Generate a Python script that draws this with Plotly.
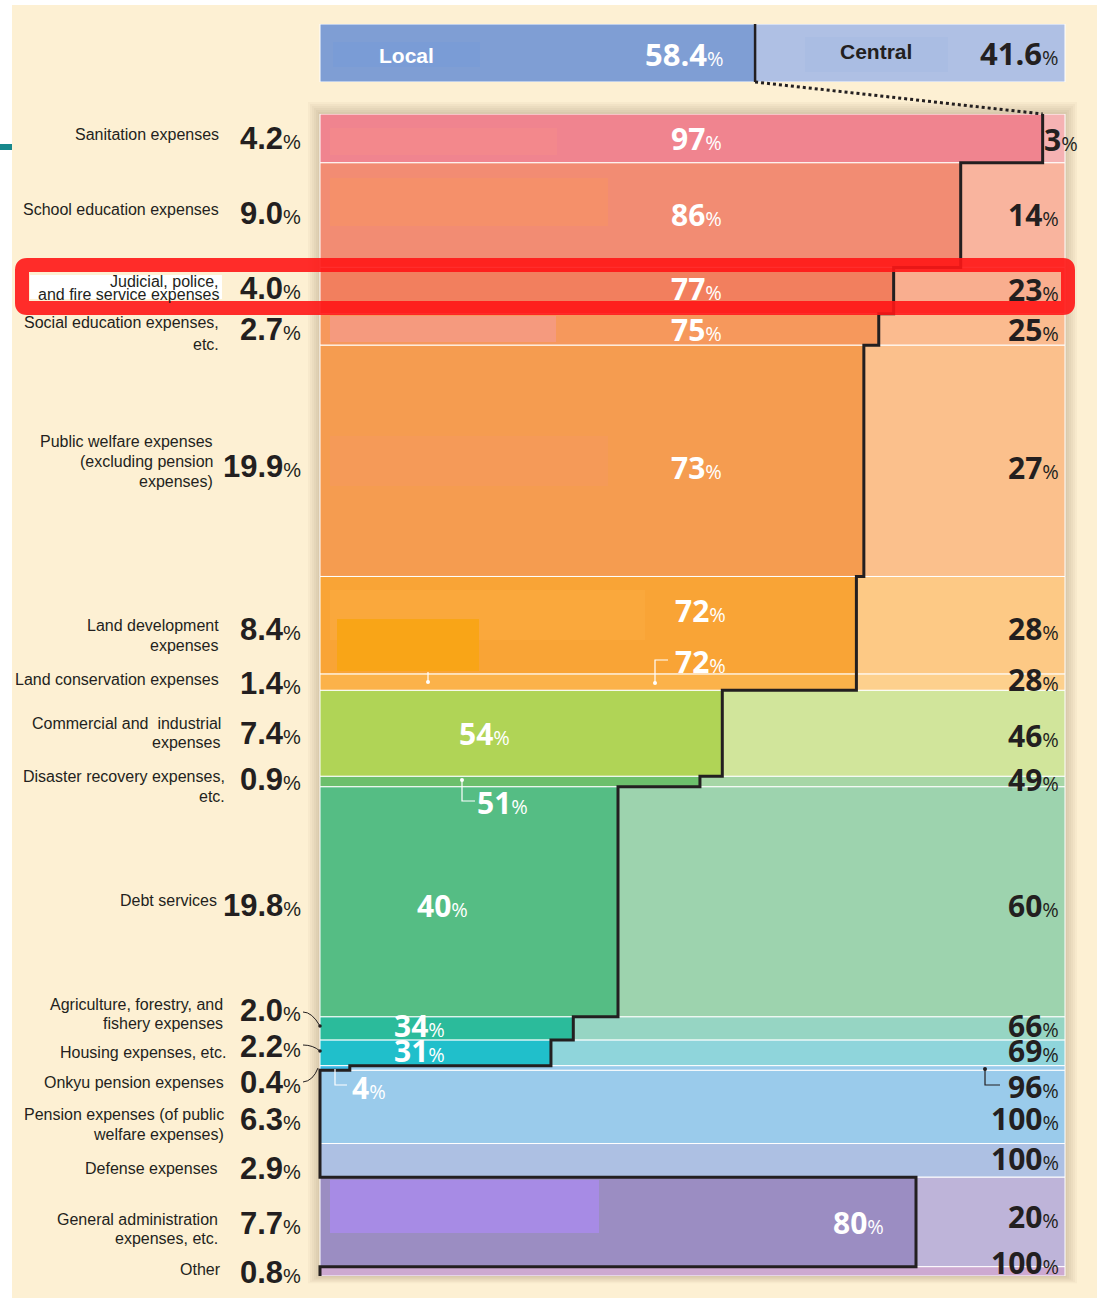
import plotly.graph_objects as go

# ── Data ──────────────────────────────────────────────────────────────────────
CATEGORIES = [
    "Sanitation expenses",
    "School education expenses",
    "Judicial, police,<br>and fire service expenses",
    "Social education expenses,<br>etc.",
    "Public welfare expenses<br>(excluding pension<br>expenses)",
    "Land development<br>expenses",
    "Land conservation expenses",
    "Commercial and  industrial<br>expenses",
    "Disaster recovery expenses,<br>etc.",
    "Debt services",
    "Agriculture, forestry, and<br>fishery expenses",
    "Housing expenses, etc.",
    "Onkyu pension expenses",
    "Pension expenses (of public<br>welfare expenses)",
    "Defense expenses",
    "General administration<br>expenses, etc.",
    "Other",
]
SHARE = [4.2, 9.0, 4.0, 2.7, 19.9, 8.4, 1.4, 7.4, 0.9, 19.8, 2.0, 2.2, 0.4, 6.3, 2.9, 7.7, 0.8]
LOCAL = [97, 86, 77, 75, 73, 72, 72, 54, 51, 40, 34, 31, 4, 0, 0, 80, 0]
CENTRAL = [3, 14, 23, 25, 27, 28, 28, 46, 49, 60, 66, 69, 96, 100, 100, 20, 100]
TOTAL_LABELS = ["Local", "Central"]
TOTAL_SHARE = [58.4, 41.6]

# ── Palette ───────────────────────────────────────────────────────────────────
LOCAL_COLORS = [
    "#F0848F", "#F28C73", "#F27F5E", "#F6985C", "#F59C50", "#F9A436",
    "#FBB24A", "#B0D456", "#6CBF6C", "#55BD84", "#2BBB9B", "#20BFCB",
    "#3DB9E6", "#9ACBEB", "#ADC0E3", "#9B8DC2", "#CDA9D1",
]
CENTRAL_COLORS = [
    "#F5B2B3", "#F9B49E", "#F9AE8F", "#FBBB8F", "#FBC08C", "#FDC985",
    "#FDD08D", "#D1E59B", "#A6D6A6", "#9DD3AE", "#96D5C3", "#8FD5DB",
    "#9ACBEB", "#9ACBEB", "#ADC0E3", "#BEB4D9", "#CDA9D1",
]
TOTAL_COLORS = ["#7F9ED4", "#AFC0E4"]
INK = "#231F20"
CREAM = "#FDF0D3"
NUM_FONT = "'Open Sans', 'Liberation Sans', sans-serif"
SANS = "'Liberation Sans', Arial, sans-serif"

# ── Label placement (pixels; dy = offset from row centre, + is down) ─────────
NAME_XR = [221, 221, 221, 221, 215, 221, 221, 223, 227, 219, 225, 228, 226, 226, 220, 220, 223]
NAME_DY = [-4, -6, -3, 4, 1, 10, -3, 0, 5, -1, -14, 0, 14, 18, 8, 7, -2]
NAME_GAP = [20, 20, 13, 22, 20, 20, 20, 19, 20, 20, 19, 20, 20, 20, 20, 19, 20]
NUM_DY = [0, -2, -2, 0, 6, 4, 1, 0, -2, 4, -18, -6, 14, 13, 8, 2, 1]
LOCAL_X = [696, 696, 696, 696, 696, 700, 700, 484, 502, 442, 419, 419, 369, None, None, 858, None]
LOCAL_DY = [0, -1, -2, 0, 7, -15, -21, 0, 21, 4, -3, -2, 19, 0, 0, 1, 0]
CENTRAL_XR = [1080] + [1061] * 16
CENTRAL_DY = [1, -1, -1, 0, 7, 3, -3, 2, -2, 4, -3, -2, 18, 12, -2, -5, -9]

# ── Geometry (page pixels) ────────────────────────────────────────────────────
W, H = 1097, 1298
PL, PR = 320, 1065          # pixel span of 0..100 %
PT, PB = 114, 1276          # main block
BAR_T, BAR_B = 24, 82       # Local / Central bar
PAD = 4                     # keeps the step line at 0 % unclipped
K = (PR - PL) / 100
PADU = PAD / K
ML, MR = PL - PAD, W - (PR + PAD)
MT, MB = BAR_T, H - PB


def X(p):
    return (p - ML) / (W - ML - MR)


def Y(p):
    return (H - MB - p) / (H - MT - MB)


def svg(cmds):
    out = []
    for c in cmds:
        nums = c[1:]
        pairs = [f"{X(nums[i]):.5f},{Y(nums[i + 1]):.5f}" for i in range(0, len(nums), 2)]
        out.append(c[0] + " " + " ".join(pairs))
    return " ".join(out)


def rect(x0, y0, x1, y1, color, layer="above"):
    return dict(type="rect", xref="paper", yref="paper", x0=X(x0), x1=X(x1),
                y0=Y(y1), y1=Y(y0), fillcolor=color, line_width=0, layer=layer)


def leader(cmds, color, width=1.2):
    return dict(type="path", xref="paper", yref="paper", path=svg(cmds),
                line=dict(color=color, width=width), layer="above")


def dot(x, y, color, r=2):
    return dict(type="circle", xref="paper", yref="paper", x0=X(x - r), x1=X(x + r),
                y0=Y(y + r), y1=Y(y - r), fillcolor=color, line_width=0, layer="above")


def pct(value, size):
    return f"<b>{value}</b><span style='font-size:{size}px'>%</span>"


tops, acc = [], 0.0
for s in SHARE:
    tops.append(acc)
    acc += s
bottoms = [t + s for t, s in zip(tops, SHARE)]
centers = [t + s / 2 for t, s in zip(tops, SHARE)]

fig = go.Figure()

# ── Main block: local (left) and central (right) share of each row ───────────
fig.add_trace(go.Bar(
    y=centers, x=LOCAL, base=[0] * len(LOCAL), width=SHARE, orientation="h",
    marker=dict(color=LOCAL_COLORS, line=dict(color="white", width=1)),
    hoverinfo="skip",
))
fig.add_trace(go.Bar(
    y=centers, x=CENTRAL, base=LOCAL, width=SHARE, orientation="h",
    marker=dict(color=CENTRAL_COLORS, line=dict(color="white", width=1)),
    hoverinfo="skip",
))

step_x, step_y = [], []
for l, t, b in zip(LOCAL, tops, bottoms):
    step_x += [l, l]
    step_y += [t, b]
fig.add_trace(go.Scatter(
    x=step_x, y=step_y, mode="lines", line=dict(color=INK, width=3),
    hoverinfo="skip",
))

# ── Top bar: total local vs central ──────────────────────────────────────────
fig.add_trace(go.Bar(
    y=[0.5, 0.5], x=TOTAL_SHARE, base=[0, TOTAL_SHARE[0]], width=[1, 1],
    orientation="h", xaxis="x2", yaxis="y2",
    marker=dict(color=TOTAL_COLORS, line=dict(color="white", width=1)),
    hoverinfo="skip",
))

# ── Shapes ────────────────────────────────────────────────────────────────────
shapes = [rect(12, 5, W, H, CREAM, "below"), rect(0, 144, 12, 150, "#17888C", "below")]
for i in range(1, 7):
    e = 2 * i
    shapes.append(rect(PL - e, PT - e, PR + e, PB + e * 0.6, "rgba(90,70,40,0.035)", "below"))

# leftover patches in the artwork
shapes += [
    rect(330, 128, 557, 155, "#F3888C"),
    rect(330, 178, 608, 226, "#F5906A"),
    rect(330, 316, 556, 342, "#F59A7E"),
    rect(330, 436, 608, 486, "#F59A58"),
    rect(330, 590, 645, 640, "#FAA83C"),
    rect(337, 619, 479, 671, "#F9A517"),
    rect(330, 1180, 599, 1233, "#A78BE5"),
    rect(333, 42, 480, 67, "#7A9CD6"),
    rect(805, 37, 948, 72, "#AABDE3"),
    rect(30, 275, 222, 299, "white"),
]

# top bar divider and dotted connector to the first row boundary
shapes.append(dict(type="line", xref="x2", yref="y2", x0=TOTAL_SHARE[0], x1=TOTAL_SHARE[0],
                   y0=0, y1=1.02, line=dict(color=INK, width=2.5), layer="above"))
shapes.append(dict(type="line", xref="x", yref="paper", x0=TOTAL_SHARE[0], x1=LOCAL[0],
                   y0=Y(BAR_B), y1=Y(PT), line=dict(color=INK, width=3, dash="dot"), layer="above"))

# leaders
shapes += [
    leader([("M", 428, 672), ("L", 428, 682)], "white"), dot(428, 682, "white"),
    leader([("M", 655, 683), ("L", 655, 660), ("L", 668, 660)], "white"), dot(655, 683, "white"),
    leader([("M", 462, 780), ("L", 462, 801), ("L", 475, 801)], "white"), dot(462, 780, "white"),
    leader([("M", 335, 1069), ("L", 335, 1085), ("L", 347, 1085)], "white"),
    leader([("M", 985, 1069), ("L", 985, 1085), ("L", 1000, 1085)], INK), dot(985, 1069, INK),
    leader([("M", 303, 1012), ("Q", 312, 1012, 320, 1026)], INK, 1), dot(320, 1026, INK, 1.8),
    leader([("M", 303, 1045), ("Q", 313, 1045, 320, 1051)], INK, 1), dot(320, 1051, INK, 1.8),
    leader([("M", 303, 1082), ("Q", 313, 1081, 318, 1068)], INK, 1),
]

# highlight frame around the judicial / police / fire row
x0, y0, x1, y1, r = 22, 265, 1068, 308, 5
shapes.append(dict(
    type="path", xref="paper", yref="paper", layer="above",
    path=svg([("M", x0 + r, y0), ("L", x1 - r, y0), ("Q", x1, y0, x1, y0 + r),
              ("L", x1, y1 - r), ("Q", x1, y1, x1 - r, y1), ("L", x0 + r, y1),
              ("Q", x0, y1, x0, y1 - r), ("L", x0, y0 + r), ("Q", x0, y0, x0 + r, y0)]),
    line=dict(color="rgba(255,22,22,0.9)", width=14),
))

# ── Annotations ───────────────────────────────────────────────────────────────
ann = []
for i, name in enumerate(CATEGORIES):
    lines = name.split("<br>")
    n = len(lines)
    for j, line in enumerate(lines):
        off = NAME_DY[i] + (j - (n - 1) / 2) * NAME_GAP[i]
        ann.append(dict(text=line, xref="paper", yref="y", x=X(NAME_XR[i]), y=centers[i],
                        yshift=-off, xanchor="right", yanchor="middle", showarrow=False,
                        font=dict(family=SANS, size=16, color=INK)))
    ann.append(dict(text=pct(f"{SHARE[i]:.1f}", 20), xref="paper", yref="y", x=X(303),
                    y=centers[i], yshift=-NUM_DY[i], xanchor="right", yanchor="middle",
                    showarrow=False, font=dict(family=SANS, size=31, color=INK)))
    if LOCAL_X[i] is not None:
        ann.append(dict(text=pct(LOCAL[i], 20), xref="paper", yref="y", x=X(LOCAL_X[i]),
                        y=centers[i], yshift=-LOCAL_DY[i], xanchor="center", yanchor="middle",
                        showarrow=False, font=dict(family=NUM_FONT, size=30, color="white")))
    ann.append(dict(text=pct(CENTRAL[i], 20), xref="paper", yref="y", x=X(CENTRAL_XR[i]),
                    y=centers[i], yshift=-CENTRAL_DY[i], xanchor="right", yanchor="middle",
                    showarrow=False, font=dict(family=NUM_FONT, size=30, color=INK)))

ann += [
    dict(text=f"<b>{TOTAL_LABELS[0]}</b>", xref="paper", yref="paper", x=X(406), y=Y(55),
         xanchor="center", yanchor="middle", showarrow=False,
         font=dict(family=SANS, size=21, color="white")),
    dict(text=pct(TOTAL_SHARE[0], 20), xref="paper", yref="paper", x=X(726), y=Y(54),
         xanchor="right", yanchor="middle", showarrow=False,
         font=dict(family=NUM_FONT, size=31, color="white")),
    dict(text=f"<b>{TOTAL_LABELS[1]}</b>", xref="paper", yref="paper", x=X(876), y=Y(52),
         xanchor="center", yanchor="middle", showarrow=False,
         font=dict(family=SANS, size=21, color=INK)),
    dict(text=pct(TOTAL_SHARE[1], 20), xref="paper", yref="paper", x=X(1061), y=Y(53),
         xanchor="right", yanchor="middle", showarrow=False,
         font=dict(family=NUM_FONT, size=31, color=INK)),
]

fig.update_layout(
    width=W, height=H,
    margin=dict(l=ML, r=MR, t=MT, b=MB, pad=0),
    paper_bgcolor="white", plot_bgcolor="rgba(0,0,0,0)",
    barmode="overlay", showlegend=False, hovermode=False,
    xaxis=dict(range=[-PADU, 100 + PADU], domain=[0, 1], anchor="y", visible=False),
    yaxis=dict(range=[100, 0], domain=[0, Y(PT)], anchor="x", visible=False),
    xaxis2=dict(range=[-PADU, 100 + PADU], domain=[0, 1], anchor="y2", visible=False),
    yaxis2=dict(range=[0, 1], domain=[Y(BAR_B), 1], anchor="x2", visible=False),
    shapes=shapes,
    annotations=ann,
)

# drop the page's default body margin so the figure sits at the window origin
fig.write_html(
    "out.html",
    config={"displayModeBar": False},
    post_script="document.body.style.margin='0';document.body.style.overflow='hidden';",
)
